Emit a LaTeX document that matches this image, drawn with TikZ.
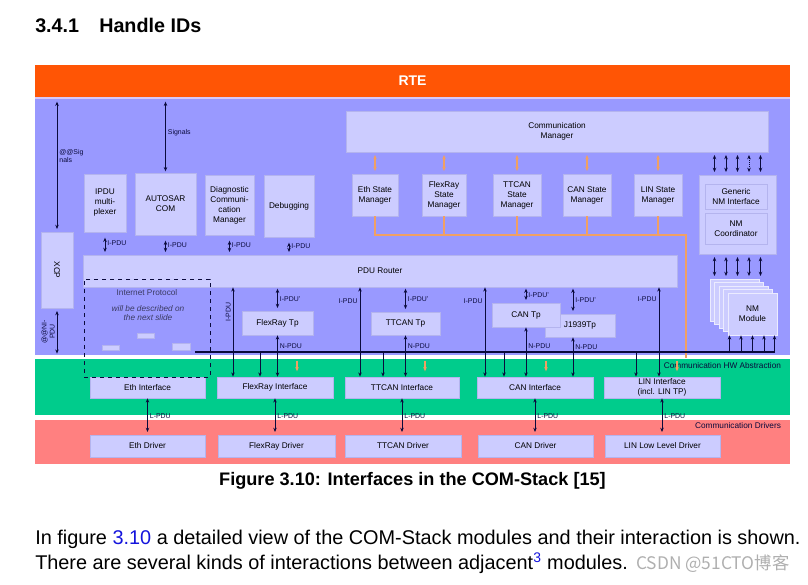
\documentclass[tikz,border=0pt]{standalone}
\usepackage{fontspec}
\usepackage{graphicx}
\setmainfont{Liberation Sans}
\newfontfamily\cjkfont{Noto Sans CJK SC}
\usetikzlibrary{arrows.meta}

\definecolor{rtecol}{RGB}{255,85,5}
\definecolor{swcol}{RGB}{153,153,255}
\definecolor{hwcol}{RGB}{0,204,140}
\definecolor{drvcol}{RGB}{255,128,128}
\definecolor{modcol}{RGB}{204,204,255}
\definecolor{modedge}{RGB}{180,180,238}
\definecolor{smcol}{RGB}{240,160,100}
\definecolor{arrcol}{RGB}{10,10,60}
\definecolor{linkcol}{RGB}{20,20,220}
\definecolor{sepcol}{RGB}{215,200,250}
\definecolor{wmcol}{RGB}{175,175,175}

\begin{document}
\begin{tikzpicture}[x=0.75pt, y=-0.75pt, >={Stealth[length=3.2pt,width=2.6pt]},
    sz/.style 2 args={minimum width=#1*0.75pt, minimum height=#2*0.75pt},
    modfont/.style={font=\fontsize{6.2}{7.5}\selectfont},
    lbl/.style={font=\fontsize{5.2}{6}\selectfont, inner sep=1.5pt, text=arrcol},
    smline/.style={draw=smcol, line width=1pt},
    busline/.style={draw=arrcol, line width=.8pt}]

  \useasboundingbox (0,0) rectangle (808,585);

  % page text
  \begin{scope}[every node/.style={anchor=base west, inner sep=0}]
    \node[font=\bfseries\fontsize{14.8}{17}\selectfont] (secno) at (35,33) {3.4.1};
    \node[font=\bfseries\fontsize{14.8}{17}\selectfont] (sectitle) at (99,33) {Handle IDs};
    \node[font=\fontsize{14.9}{18}\selectfont] (line1) at (35,544) {In figure \textcolor{linkcol}{3.10} a detailed view of the COM-Stack modules and their interaction is shown.};
    \node[font=\fontsize{14.9}{18}\selectfont] (line2) at (35,569) {There are several kinds of interactions between adjacent\textsuperscript{\textcolor{linkcol}{3}} modules.};
    \node[font=\cjkfont\fontsize{13}{16}\selectfont, text=wmcol] (wmark) at (636,569) {CSDN @51CTO博客};
  \end{scope}
  \node[font=\bfseries\fontsize{13.6}{16}\selectfont] (caption) at (412.5,481) {Figure 3.10: Interfaces in the COM-Stack [15]};

  % layers
  \begin{scope}[every node/.style={inner sep=0, outer sep=0}]
    \node[fill=rtecol, sz={755}{32}, text=white, font=\bfseries\fontsize{10.5}{12}\selectfont] (rte) at (412.5,81) {RTE};
    \node[fill=swcol, sz={755}{256}] (sw) at (412.5,227) {};
    \node[fill=hwcol, sz={755}{56}] (hw) at (412.5,387) {};
    \node[fill=drvcol, sz={755}{44}] (drv) at (412.5,442) {};
    \node[modfont, anchor=north east, text=arrcol] (hwname) at (781,363) {Communication HW Abstraction};
    \node[modfont, anchor=north east, text=arrcol] (drvname) at (781,423) {Communication Drivers};
  \end{scope}
  \draw[sepcol, line width=1.5pt] ([yshift=-.6pt]rte.south west) -- ([yshift=-.6pt]rte.south east);

  % modules
  \begin{scope}[every node/.style={fill=modcol, draw=modedge, line width=.5pt, inner sep=1pt, align=center, modfont}]
    \node[sz={422}{41}] (comm) at (557,131.5) {Communication\\Manager};
    \node[sz={46}{42}] (ethsm) at (375,195) {Eth State\\Manager};
    \node[sz={44}{42}] (frsm) at (444,195) {FlexRay\\State\\Manager};
    \node[sz={48}{42}] (ttsm) at (517,195) {TTCAN\\State\\Manager};
    \node[sz={48}{42}] (cansm) at (587,195) {CAN State\\Manager};
    \node[sz={48}{42}] (linsm) at (658,195) {LIN State\\Manager};
    \node[sz={77}{79}] (nmgrp) at (737.5,214.5) {};
    \node[sz={62}{25}] (nmif) at (736,196.5) {Generic\\NM Interface};
    \node[sz={62}{31}] (nmco) at (736,228.5) {NM\\Coordinator};
    \foreach \i in {4,...,1}
      \node[sz={49}{42}, draw=white!60!modcol] (nmstack\i) at (752.5-4.5*\i,314-3.5*\i) {};
    \node[sz={49}{42}, draw=white!60!modcol] (nmmod) at (752.5,314) {NM\\Module};

    \node[sz={32}{76}] (xcp) at (57,270) {\rotatebox{-90}{XCP}};
    \node[sz={42}{58}] (ipdum) at (105,203) {IPDU\\multi-\\plexer};
    \node[sz={61}{62}] (com) at (165.5,204) {AUTOSAR\\COM};
    \node[sz={49}{60}] (dcm) at (229.5,205) {Diagnostic\\Communi-\\cation\\Manager};
    \node[sz={50}{62}] (dbg) at (289,206) {Debugging};
    \node[sz={594}{32}] (pdur) at (380,271) {PDU Router};

    \node[sz={71}{24}] (frtp) at (277.5,323) {FlexRay Tp};
    \node[sz={69}{23}] (tttp) at (405.5,323.5) {TTCAN Tp};
    \node[sz={70}{23}] (j1939) at (580,325.5) {J1939Tp};
    \node[sz={68}{24}] (cantp) at (526,315) {CAN Tp};

    \node[sz={17}{5}] (ipa) at (145.5,335.5) {};
    \node[sz={17}{5}] (ipb) at (110.5,347.5) {};
    \node[sz={18}{7}] (ipc) at (181,346.5) {};

    \node[sz={115}{21}] (ethif) at (147.5,387.5) {Eth Interface};
    \node[sz={116}{21}] (frif) at (275,387.5) {FlexRay Interface};
    \node[sz={114}{21}] (ttif) at (402,387.5) {TTCAN Interface};
    \node[sz={116}{21}] (canif) at (535,387.5) {CAN Interface};
    \node[sz={116}{21}] (linif) at (662,387.5) {LIN Interface\\(incl. LIN TP)};

    \node[sz={115}{22}] (ethdrv) at (147.5,446) {Eth Driver};
    \node[sz={117}{22}] (frdrv) at (276.5,446) {FlexRay Driver};
    \node[sz={116}{22}] (ttdrv) at (403,446) {TTCAN Driver};
    \node[sz={115}{22}] (candrv) at (535.5,446) {CAN Driver};
    \node[sz={115}{22}] (lindrv) at (662.5,446) {LIN Low Level Driver};
  \end{scope}

  % state manager lines
  \coordinate (smbus) at (686,235);
  \coordinate (smdrop) at (686,358);
  \draw[smline] (ethsm.south) |- (smbus) -- (smdrop);
  \foreach \m in {frsm, ttsm, cansm, linsm}
    \draw[smline] (\m.south) -- (\m.south |- smbus);
  \foreach \m in {ethsm, frsm, ttsm, cansm, linsm}
    \path (\m.north) edge[smline, <->, shorten <=2pt, shorten >=2pt] (\m.north |- comm.south);
  \foreach \m/\dx in {frif/22, ttif/23, canif/11, linif/15}
    \draw[smline, ->] ([xshift=\dx*0.75pt, yshift=12pt]\m.north) -- ([xshift=\dx*0.75pt, yshift=4pt]\m.north);

  % bus
  \coordinate (busW) at (195,352);
  \coordinate (busE) at (775,352);
  \draw[busline] (busW) -- (busE);

  \begin{scope}[every node/.style={lbl}, every edge/.style={draw=arrcol, line width=.6pt}]
    \path (xcp.north |- sw.north) edge[<->, shorten <=2pt, shorten >=2pt] node[pos=.43, anchor=west, align=left] {@@Sig\\nals} (xcp.north);
    \path (xcp.south) edge[<->, shorten <=2pt, shorten >=1pt] node[midway, rotate=90, anchor=south, align=center] {@@NI-\\PDU} (xcp.south |- sw.south);
    \path (com.north |- sw.north) edge[<->, shorten <=2pt, shorten >=1pt] node[pos=.46, right] {Signals} (com.north);
    \foreach \m in {ipdum, com, dcm, dbg}
      \path (\m.south) edge[<->, shorten <=4pt, shorten >=2pt] node[right] {I-PDU} (\m.south |- pdur.north);

    \path (frtp.north |- pdur.south) edge[<->, shorten <=1pt, shorten >=2pt] node[right] {I-PDU'} (frtp.north);
    \path (tttp.north |- pdur.south) edge[<->, shorten <=1pt, shorten >=2pt] node[right] {I-PDU'} (tttp.north);
    \path (cantp.north |- pdur.south) edge[<->, shorten <=1pt, shorten >=2pt] node[right] {I-PDU'} (cantp.north);
    \path ([xshift=-5.25pt]j1939.north |- pdur.south) edge[<->, shorten <=1pt, shorten >=2pt] node[right] {I-PDU'} ([xshift=-5.25pt]j1939.north);

    \path (frtp.south) edge[<->] node[pos=.25, right] {N-PDU} (frtp.south |- frif.north);
    \path (tttp.south) edge[<->] node[pos=.25, right] {N-PDU} (tttp.south |- ttif.north);
    \path (cantp.south) edge[<->] node[pos=.38, right] {N-PDU} (cantp.south |- canif.north);
    \path ([xshift=-5.25pt]j1939.south) edge[<->] node[pos=.25, right] {N-PDU} ([xshift=-5.25pt]j1939.south |- canif.north);

    \path ([xshift=-31.5pt]frif.north |- pdur.south) edge[<->] node[pos=.28, rotate=90, anchor=south] {I-PDU} ([xshift=-31.5pt]frif.north);
    \path ([xshift=-31.5pt]ttif.north |- pdur.south) edge[<->] node[pos=.15, left] {I-PDU} ([xshift=-31.5pt]ttif.north);
    \path ([xshift=-37.5pt]canif.north |- pdur.south) edge[<->] node[pos=.15, left] {I-PDU} ([xshift=-37.5pt]canif.north);
    \path ([xshift=-2.25pt]linif.north |- pdur.south) edge[<->] node[pos=.13, left] {I-PDU} ([xshift=-2.25pt]linif.north);

    \foreach \m/\dx in {frif/-15, ttif/-19, canif/-31, linif/-26}
      \path ([xshift=\dx*0.75pt]\m.north |- busW) edge[->] ([xshift=\dx*0.75pt]\m.north);

    \foreach \dx/\ls in {-23/solid, -11.5/solid, 0/solid, 11.5/densely dotted, 23/solid}
      \path ([xshift=\dx*0.75pt]nmgrp.north) edge[<->, \ls, shorten <=2pt, shorten >=2pt] ([xshift=\dx*0.75pt]nmgrp.north |- comm.south);
    \foreach \dx in {-23, -11.5, 0, 11.5, 23}
      \path ([xshift=\dx*0.75pt]nmgrp.south) edge[<->, shorten <=2pt, shorten >=2pt] ([xshift=\dx*0.75pt]nmgrp.south |- nmstack4.north);
    \foreach \dx in {-23, -11.5, 0, 11.5, 22}
      \path ([xshift=\dx*0.75pt]nmmod.south |- busE) edge[->] ([xshift=\dx*0.75pt]nmmod.south);

    \foreach \m/\d in {ethif/ethdrv, frif/frdrv, ttif/ttdrv, canif/candrv, linif/lindrv}
      \path (\m.south) edge[<->, shorten >=2pt] node[right] {L-PDU} (\m.south |- \d.north);
  \end{scope}

  % internet protocol
  \node[draw=arrcol, dashed, line width=.6pt, sz={126}{98}, inner sep=0] (ipbox) at (147,328) {};
  \node[modfont, anchor=north, text=arrcol!80] (ipname) at ([yshift=-4.5pt]ipbox.north) {Internet Protocol};
  \node[font=\itshape\fontsize{6.2}{7.2}\selectfont, align=center, text=arrcol!80] (ipnote) at (148,313) {will be described on\\the next slide};

\end{tikzpicture}
\end{document}
